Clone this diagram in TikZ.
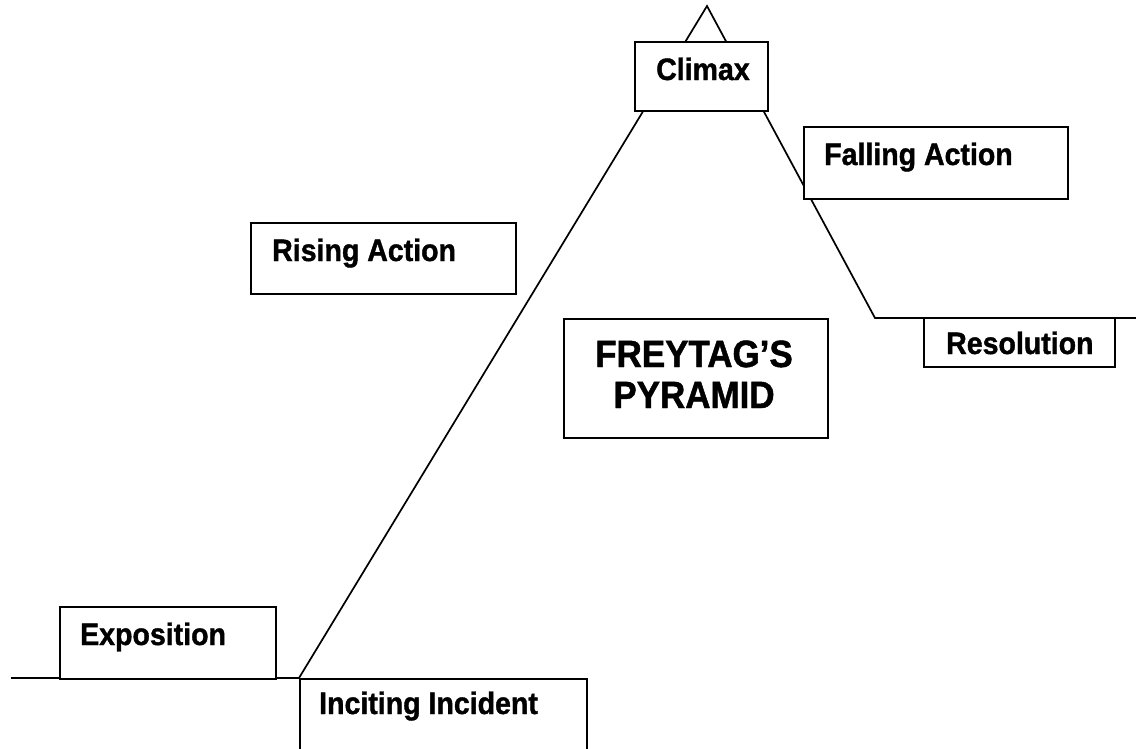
\documentclass[tikz,border=0pt]{standalone}
\usepackage{fontspec}
\setmainfont{Liberation Sans}[FakeStretch=0.92, BoldFeatures={FakeBold=1.2}]
\begin{document}
\begin{tikzpicture}[x=1pt,y=-1pt,
  box/.style={draw=black, line width=2.4pt, fill=white, inner sep=0pt, anchor=north west},
  lbl/.style={inner sep=0pt, anchor=base west, font=\fontsize{31}{34}\selectfont\bfseries},
  ttl/.style={inner sep=0pt, anchor=base, font=\fontsize{38}{41}\selectfont\bfseries},
  plot/.style={line width=1.7pt, line join=miter}]
\useasboundingbox (0,0) rectangle (1136,748);
\clip (0,0) rectangle (1136,748);
\fill[white] (0,0) rectangle (1136,748);
% pyramid
\coordinate (L) at (11,678);
\coordinate (I) at (299,678);
\coordinate (P) at (707,6);
\coordinate (R) at (875,318);
\coordinate (E) at (1140,318);
\draw[plot] (L) -- (I) -- (P) -- (R) -- (E);
% boxes
\node[box, minimum width=216pt, minimum height=72pt] (expo) at (59,606) {};
\node[box, minimum width=287pt, minimum height=90pt] (inc) at (299,678) {};
\node[box, minimum width=265pt, minimum height=71pt] (rise) at (250,222) {};
\node[box, minimum width=133pt, minimum height=69pt] (clim) at (634,41) {};
\node[box, minimum width=264pt, minimum height=72pt] (fall) at (803,126) {};
\node[box, minimum width=191pt, minimum height=49pt] (reso) at (923,317) {};
\node[box, minimum width=264pt, minimum height=119pt] (ftag) at (563,318) {};
% labels
\node[lbl] (expot) at (80,645) {Exposition};
\node[lbl] (inct) at (319,714) {Inciting Incident};
\node[lbl] (riset) at (272,261) {Rising Action};
\node[lbl] (climt) at (656,80) {Climax};
\node[lbl] (fallt) at (824,165) {Falling Action};
\node[lbl] (resot) at (946,354) {Resolution};
\node[ttl] (ftag1) at (694,367) {FREYTAG’S};
\node[ttl] (ftag2) at (694,408) {PYRAMID};
\end{tikzpicture}
\end{document}
